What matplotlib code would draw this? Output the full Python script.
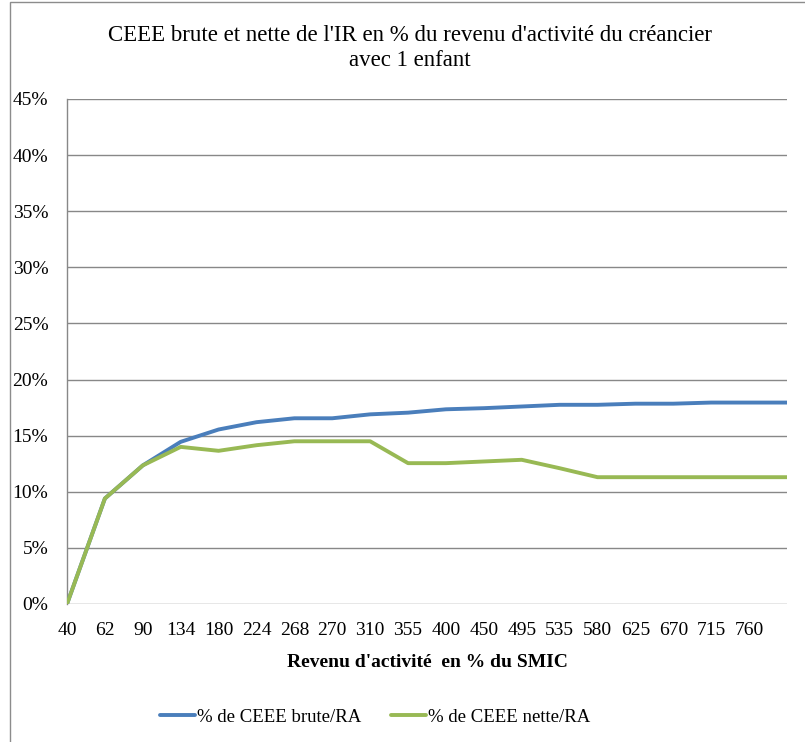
import matplotlib
matplotlib.use("Agg")
import matplotlib.pyplot as plt
from matplotlib.patches import Rectangle

plt.rcParams['font.family'] = ['Liberation Serif', 'DejaVu Serif']

categories = ["40", "62", "90", "134", "180", "224", "268", "270", "310", "355",
              "400", "450", "495", "535", "580", "625", "670", "715", "760", ""]
brute = [0.0, 9.4, 12.35, 14.45, 15.55, 16.2, 16.55, 16.55, 16.9, 17.05,
         17.35, 17.45, 17.6, 17.75, 17.75, 17.85, 17.85, 17.95, 17.95, 17.95]
nette = [0.0, 9.4, 12.35, 14.0, 13.65, 14.15, 14.5, 14.5, 14.5, 12.55,
         12.55, 12.7, 12.85, 12.1, 11.3, 11.3, 11.3, 11.3, 11.3, 11.3]
yticks = [0, 5, 10, 15, 20, 25, 30, 35, 40, 45]
series_names = ["% de CEEE brute/RA", "% de CEEE nette/RA"]
title = "CEEE brute et nette de l'IR en % du revenu d'activité du créancier\navec 1 enfant"
xlabel = "Revenu d'activité  en % du SMIC"

blue = "#4A7EBB"
green = "#98B954"
grid_gray = "#888888"

fig = plt.figure(figsize=(8.05, 7.42), dpi=100)
fig.patches.append(Rectangle((10 / 805, -0.01), 1.0, 1 - 2 / 742 + 0.01,
                             transform=fig.transFigure, fill=False,
                             edgecolor="#8c8c8c", linewidth=1.0))

ax = fig.add_axes([67 / 805, 1 - 604 / 742, 720 / 805, 505 / 742])
x = list(range(len(categories)))
ax.plot(x, brute, color=blue, lw=2.8, solid_capstyle="round", label=series_names[0], zorder=3)
ax.plot(x, nette, color=green, lw=2.8, solid_capstyle="round", label=series_names[1], zorder=3)

ax.set_xlim(0, len(categories) - 1)
ax.set_ylim(0, 45)
ax.set_yticks(yticks)
ax.set_yticklabels([f"{v}%" for v in yticks], fontsize=14)
ax.set_xticks(x)
ax.set_xticklabels(categories, fontsize=14)
ax.tick_params(axis="both", length=0)
ax.tick_params(axis="y", pad=13.5)
ax.tick_params(axis="x", pad=13)
ax.yaxis.grid(True, color=grid_gray, lw=1.0)
ax.set_axisbelow(True)
for side in ["top", "right", "bottom"]:
    ax.spines[side].set_visible(False)
ax.spines["left"].set_color(grid_gray)
ax.spines["left"].set_linewidth(1.0)

ax.set_xlabel(xlabel, fontsize=14, fontweight="bold", labelpad=10.5)
fig.text(410 / 805, 1 - 48 / 742, title, ha="center", va="center", fontsize=16.5, linespacing=1.2)

fig.legend(loc="center", bbox_to_anchor=(0.466, 1 - 717 / 742), ncol=2, frameon=False,
           fontsize=13.5, handlelength=1.85, handletextpad=0.1, columnspacing=1.6)

fig.savefig("out.png", dpi=100, facecolor="white")
